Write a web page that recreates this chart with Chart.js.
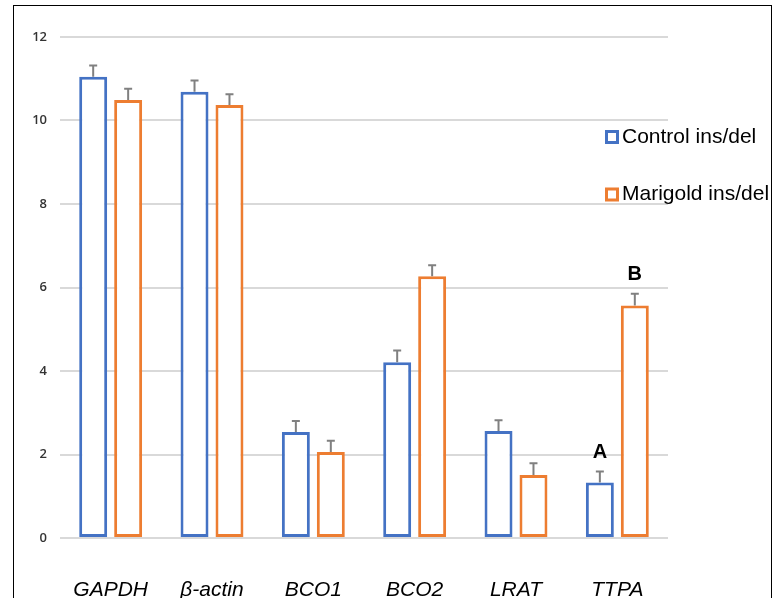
<!DOCTYPE html>
<html>
<head>
<meta charset="utf-8">
<script src="https://cdn.jsdelivr.net/npm/chart.js@4"></script>
<style>
  body { margin: 0; background: #fff; }
  #wrap { position: relative; width: 776px; height: 598px; }
  #frame { position: absolute; left: 13px; top: 5px; width: 759px; height: 620px; border: 1.5px solid #000; border-bottom: none; box-sizing: border-box; pointer-events: none; }
</style>
</head>
<body>
<div id="wrap">
  <canvas id="myChart" width="776" height="598"></canvas>
  <div id="frame"></div>
</div>
<script>
// genes on the x axis
var genes = ['GAPDH', 'β-actin', 'BCO1', 'BCO2', 'LRAT', 'TTPA']
// mean values
var controlValues = [11.05, 10.69, 2.54, 4.21, 2.56, 1.33]
var marigoldValues = [10.49, 10.37, 2.06, 6.27, 1.51, 5.57]
// error bar sizes (upper only)
var controlErr = [0.27, 0.27, 0.26, 0.28, 0.26, 0.26]
var marigoldErr = [0.27, 0.26, 0.27, 0.26, 0.28, 0.28]
// letters over TTPA bars
var letterGene = 'TTPA'
var letters = ['A', 'B']
var yTicks = [0, 2, 4, 6, 8, 10, 12]

var blue = '#4472C4'
var orange = '#ED7D31'

//draws the error bars, letters and the legend on top of the bars
var extras = {
    id: 'extras',
    afterDatasetsDraw: function(chart) {
        var ctx = chart.ctx
        var y = chart.scales.y
        var errs = [controlErr, marigoldErr]
        ctx.save()
        for (var d = 0; d < chart.data.datasets.length; d++) {
            var meta = chart.getDatasetMeta(d)
            var vals = chart.data.datasets[d].data
            for (var i = 0; i < meta.data.length; i++) {
                var bx = meta.data[i].x
                var top = y.getPixelForValue(vals[i])
                var capY = y.getPixelForValue(vals[i] + errs[d][i])
                ctx.strokeStyle = '#808080'
                ctx.lineWidth = 2
                ctx.beginPath()
                ctx.moveTo(bx, top)
                ctx.lineTo(bx, capY)
                ctx.moveTo(bx - 4, capY)
                ctx.lineTo(bx + 4, capY)
                ctx.stroke()
                if (genes[i] == letterGene) {
                    ctx.fillStyle = '#000'
                    ctx.font = 'bold 20px "Liberation Sans", Arial, sans-serif'
                    ctx.textAlign = 'center'
                    ctx.textBaseline = 'middle'
                    ctx.fillText(letters[d], bx, capY - 19)
                }
            }
        }
        // legend
        var items = chart.data.datasets
        for (var k = 0; k < items.length; k++) {
            var ly = 137 + k * 57.5
            ctx.strokeStyle = items[k].borderColor
            ctx.lineWidth = 3
            ctx.fillStyle = '#fff'
            ctx.fillRect(606.5, ly - 5.5, 11, 11)
            ctx.strokeRect(606.5, ly - 5.5, 11, 11)
            ctx.fillStyle = '#000'
            ctx.font = '21px "Liberation Sans", Arial, sans-serif'
            ctx.textAlign = 'left'
            ctx.textBaseline = 'middle'
            ctx.fillText(items[k].label, 622, ly)
        }
        ctx.restore()
    }
}

function buildGraph(){
    var ctx = document.getElementById('myChart').getContext('2d')
    var chart = new Chart(ctx, {
        type: 'bar',
        data: {
            labels: genes,
            datasets: [{
                label: 'Control ins/del',
                data: controlValues,
                backgroundColor: '#fff',
                borderColor: blue,
                borderWidth: 3,
                borderSkipped: false
            }, {
                label: 'Marigold ins/del',
                data: marigoldValues,
                backgroundColor: '#fff',
                borderColor: orange,
                borderWidth: 3,
                borderSkipped: false
            }]
        },
        options: {
            responsive: false,
            animation: false,
            categoryPercentage: 0.69,
            barPercentage: 0.8,
            layout: { padding: { top: 37, right: 108, left: 0, bottom: 0 } },
            plugins: {
                legend: { display: false },
                tooltip: { enabled: false }
            },
            scales: {
                x: {
                    grid: { display: false, drawTicks: false },
                    border: { display: false },
                    ticks: {
                        padding: 40,
                        color: '#000',
                        font: { family: '"Liberation Sans", Arial, sans-serif', size: 21, style: 'italic' }
                    },
                    afterFit: function(s) { s.height = 60 }
                },
                y: {
                    min: 0,
                    max: 12,
                    afterBuildTicks: function(s) { s.ticks = yTicks.map(function(v) { return { value: v } }) },
                    grid: { color: '#d9d9d9', lineWidth: 2, drawTicks: false },
                    border: { display: false },
                    ticks: {
                        padding: 13,
                        color: '#333',
                        font: { family: '"Open Sans", sans-serif', size: 13, weight: '600' }
                    },
                    afterFit: function(s) { s.width = 60 }
                }
            }
        },
        plugins: [extras]
    })
}

buildGraph()
</script>
</body>
</html>
